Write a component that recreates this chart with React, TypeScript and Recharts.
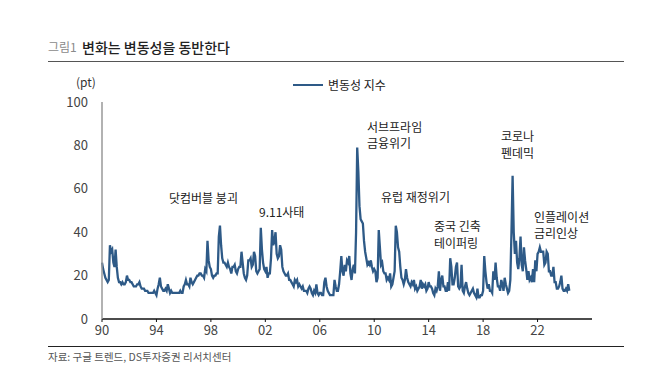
import { LineChart, Line, XAxis, YAxis } from "recharts";

// monthly index values, one row per year (1990 ~ 2024.5)
const YEARS = [
  1990, 1991, 1992, 1993, 1994, 1995, 1996, 1997, 1998, 1999, 2000, 2001,
  2002, 2003, 2004, 2005, 2006, 2007, 2008, 2009, 2010, 2011, 2012, 2013,
  2014, 2015, 2016, 2017, 2018, 2019, 2020, 2021, 2022, 2023, 2024,
];

const MONTHLY: number[][] = [
  [26, 23, 21, 19, 18, 17, 18, 34, 31, 32, 26, 24],
  [32, 24, 19, 17, 17, 16, 17, 16, 16, 17, 20, 18],
  [18, 17, 17, 16, 15, 15, 15, 16, 16, 17, 15, 14],
  [14, 14, 13, 13, 13, 12, 12, 12, 12, 12, 13, 12],
  [11, 14, 16, 19, 15, 14, 13, 13, 14, 13, 16, 14],
  [12, 13, 12, 12, 12, 12, 12, 12, 12, 13, 12, 12],
  [15, 16, 18, 16, 16, 15, 19, 17, 16, 17, 18, 19],
  [20, 20, 21, 21, 20, 20, 19, 23, 22, 36, 27, 24],
  [23, 20, 19, 20, 20, 21, 21, 38, 43, 34, 28, 26],
  [26, 25, 24, 26, 24, 23, 21, 24, 24, 25, 22, 21],
  [23, 24, 24, 31, 26, 21, 19, 18, 20, 27, 27, 28],
  [24, 25, 31, 29, 22, 21, 22, 23, 42, 32, 26, 23],
  [22, 24, 19, 21, 21, 28, 41, 34, 36, 40, 30, 28],
  [29, 34, 32, 24, 22, 21, 20, 20, 21, 18, 18, 17],
  [16, 15, 18, 17, 18, 15, 16, 15, 14, 15, 13, 13],
  [13, 12, 14, 15, 14, 12, 11, 13, 12, 16, 12, 11],
  [12, 12, 11, 11, 17, 19, 15, 13, 12, 11, 11, 11],
  [11, 18, 15, 13, 13, 16, 22, 29, 22, 20, 25, 22],
  [27, 26, 29, 21, 18, 23, 25, 21, 40, 79, 68, 52],
  [46, 45, 44, 36, 31, 28, 25, 26, 25, 27, 24, 22],
  [23, 22, 17, 19, 41, 33, 25, 26, 22, 21, 21, 18],
  [19, 18, 21, 15, 16, 19, 22, 43, 40, 33, 31, 24],
  [19, 18, 16, 18, 23, 19, 17, 16, 15, 17, 16, 18],
  [14, 15, 13, 14, 15, 18, 14, 16, 15, 16, 13, 14],
  [17, 15, 15, 14, 12, 11, 14, 13, 15, 22, 13, 18],
  [20, 15, 15, 13, 13, 17, 13, 28, 24, 16, 16, 19],
  [24, 26, 15, 14, 15, 25, 13, 12, 15, 17, 14, 12],
  [11, 12, 13, 14, 12, 11, 10, 14, 10, 10, 11, 11],
  [13, 29, 22, 17, 14, 16, 13, 13, 12, 22, 18, 26],
  [19, 15, 15, 13, 18, 16, 13, 19, 16, 14, 12, 13],
  [18, 40, 66, 40, 30, 36, 26, 23, 28, 38, 25, 22],
  [33, 27, 23, 18, 22, 18, 19, 17, 23, 17, 27, 22],
  [30, 31, 33, 31, 31, 31, 25, 26, 31, 30, 22, 22],
  [20, 20, 24, 17, 17, 14, 14, 15, 17, 20, 14, 13],
  [13, 14, 13, 16, 13],
];

const X_TICKS = [1990, 1994, 1998, 2002, 2006, 2010, 2014, 2018, 2022];
const Y_TICKS = [0, 20, 40, 60, 80, 100];

const data = YEARS.flatMap((y, i) =>
  MONTHLY[i].map((v, m) => ({ t: y + m / 12, v }))
);

const FONT = '"Noto Sans CJK KR", "Noto Sans", sans-serif';

const notes: { text: string; x: number; y: number }[] = [
  { text: "닷컴버블 붕괴", x: 169, y: 198 },
  { text: "9.11사태", x: 259, y: 212 },
  { text: "서브프라임", x: 367, y: 127 },
  { text: "금융위기", x: 367, y: 143 },
  { text: "유럽 재정위기", x: 381, y: 197 },
  { text: "중국 긴축", x: 434, y: 226 },
  { text: "테이퍼링", x: 434, y: 243 },
  { text: "코로나", x: 501, y: 136 },
  { text: "펜데믹", x: 501, y: 153 },
  { text: "인플레이션", x: 534, y: 217 },
  { text: "금리인상", x: 534, y: 233 },
];

function Label({ x, y, children, size = 12, color = "#222", weight = 400 }: any) {
  return (
    <div
      style={{
        position: "absolute",
        left: x,
        top: y,
        transform: "translateY(-50%)",
        fontSize: size,
        lineHeight: 1,
        color,
        fontWeight: weight,
        whiteSpace: "nowrap",
        fontFamily: FONT,
      }}
    >
      {children}
    </div>
  );
}

export default function App() {
  return (
    <div style={{ position: "absolute", left: 0, top: 0, width: 670, height: 387, background: "#fff", fontFamily: FONT }}>
      <style>{"body{margin:0}"}</style>

      <Label x={48} y={47} size={12} color="#8a8a8a">그림1</Label>
      <Label x={82} y={47} size={14} color="#222" weight={500}>변화는 변동성을 동반한다</Label>
      <div style={{ position: "absolute", left: 48, top: 61, width: 576, height: 1, background: "#555" }} />

      <Label x={76} y={82} size={12} color="#333">(pt)</Label>

      <div style={{ position: "absolute", left: 293, top: 84, width: 30, height: 2, background: "#2e5a87" }} />
      <Label x={328} y={85} size={12} color="#222">변동성 지수</Label>

      <LineChart
        width={670}
        height={387}
        data={data}
        margin={{ top: 102, right: 78, bottom: 38, left: 72 }}
        style={{ position: "absolute", left: 0, top: 0 }}
      >
        <XAxis
          dataKey="t"
          type="number"
          domain={[1990, 2026]}
          ticks={X_TICKS}
          tickFormatter={(v) => String(v).slice(2)}
          height={30}
          axisLine={{ stroke: "#111", strokeWidth: 1.5 }}
          tickLine={{ stroke: "#111" }}
          tickSize={3}
          tickMargin={4}
          tick={{ fill: "#444", fontSize: 13, fontFamily: FONT }}
        />
        <YAxis
          type="number"
          domain={[0, 100]}
          ticks={Y_TICKS}
          width={30}
          axisLine={{ stroke: "#999", strokeWidth: 1.5 }}
          tickLine={false}
          tickSize={0}
          tickMargin={14}
          tick={{ fill: "#444", fontSize: 13, fontFamily: FONT }}
        />
        <Line
          dataKey="v"
          type="linear"
          stroke="#2e5a87"
          strokeWidth={2.3}
          dot={false}
          isAnimationActive={false}
        />
      </LineChart>

      {notes.map((n) => (
        <Label key={n.text} x={n.x} y={n.y}>{n.text}</Label>
      ))}

      <div style={{ position: "absolute", left: 48, top: 346, width: 576, height: 1, background: "#222" }} />
      <Label x={48} y={357} size={10.5} color="#555">자료: 구글 트렌드, DS투자증권 리서치센터</Label>
    </div>
  );
}
